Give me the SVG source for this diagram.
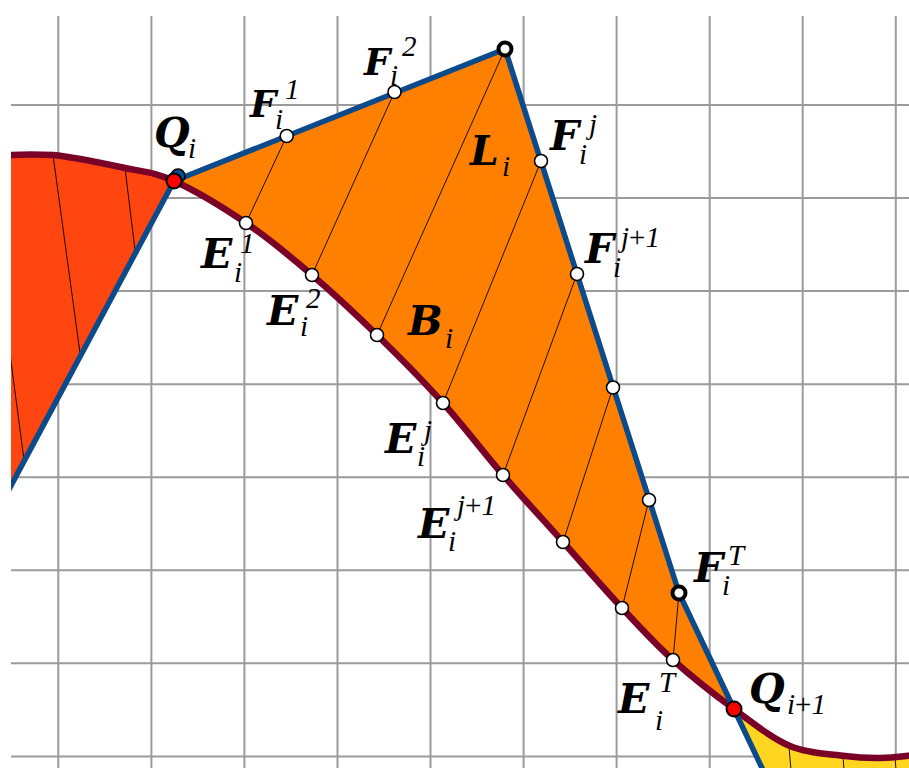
<svg xmlns="http://www.w3.org/2000/svg" width="909" height="768" viewBox="0 0 909 768">
<defs>
<clipPath id="view"><rect x="11" y="16" width="898" height="752"/></clipPath>
<style>
.grid line{stroke:#9b9b9b;stroke-width:2}
.seg{stroke:#000;stroke-width:0.9;fill:none}
.blue{stroke:#0b4a8b;stroke-width:5.5;fill:none;stroke-linejoin:round}
.curve{stroke:#7a0028;stroke-width:6.5;fill:none}
.pt{fill:#fff;stroke:#000;stroke-width:1.6}
.vx{fill:#fff;stroke:#000;stroke-width:4}
.rd{fill:#ff0000;stroke:#000;stroke-width:2}
text{fill:#000}
.m{font-family:"DejaVu Serif","Liberation Serif",serif;font-size:41px;font-weight:bold;font-style:italic}
.ms{font-family:"DejaVu Serif","Liberation Serif",serif;font-size:37px;font-weight:bold;font-style:italic}
.s{font-family:"Liberation Serif","Times New Roman",serif;font-size:29px;font-style:italic}
.p{font-style:normal;font-weight:normal}
</style>
</defs>
<rect width="909" height="768" fill="#fff"/>
<g clip-path="url(#view)">
<g id="grid" class="grid">
<line x1="58.3" y1="16" x2="58.3" y2="768"/>
<line x1="151.4" y1="16" x2="151.4" y2="768"/>
<line x1="244.4" y1="16" x2="244.4" y2="768"/>
<line x1="337.5" y1="16" x2="337.5" y2="768"/>
<line x1="430.5" y1="16" x2="430.5" y2="768"/>
<line x1="523.6" y1="16" x2="523.6" y2="768"/>
<line x1="616.6" y1="16" x2="616.6" y2="768"/>
<line x1="709.7" y1="16" x2="709.7" y2="768"/>
<line x1="802.7" y1="16" x2="802.7" y2="768"/>
<line x1="895.8" y1="16" x2="895.8" y2="768"/>
<line x1="11" y1="105" x2="909" y2="105"/>
<line x1="11" y1="198.1" x2="909" y2="198.1"/>
<line x1="11" y1="291.1" x2="909" y2="291.1"/>
<line x1="11" y1="384.2" x2="909" y2="384.2"/>
<line x1="11" y1="477.2" x2="909" y2="477.2"/>
<line x1="11" y1="570.3" x2="909" y2="570.3"/>
<line x1="11" y1="663.3" x2="909" y2="663.3"/>
<line x1="11" y1="756.4" x2="909" y2="756.4"/>
</g>
<g id="regions">
<path id="region-prev" fill="#ff4510" d="M-20,158 C-5,155.5 25,154 53,155 C73.8,157 104.8,163.7 125,168 C145.2,172.3 153.8,171.8 174,181 L-7.4,520 L-20,520 Z"/>
<path id="region-Bi" fill="#ff8000" d="M174,181 L505,49 L679,593 L734,709 C714.5,694.7 691.7,676.8 673,660 C654.3,643.2 640.3,627.7 622,608 C603.7,588.3 582.8,564.2 563,542 C543.2,519.8 523,498.2 503,475 C483,451.8 464,426.3 443,403 C422,379.7 398.8,356.3 377,335 C355.2,313.7 333.8,293.7 312,275 C290.2,256.3 269,238.7 246,223 C223,207.3 194.2,190.2 174,181 Z"/>
<path id="region-next" fill="#ffd520" d="M734,709 C753.5,723.3 771.5,738.2 790,746 C808.5,753.8 830,754 845,756 C860,758 868.3,758.2 880,758 C891.7,757.8 909.2,755.5 915,755 L915,780 L767.7,780 Z"/>
</g>
<g id="connectors">
<line class="seg" x1="286.7" y1="136" x2="246" y2="223"/>
<line class="seg" x1="394.5" y1="92" x2="312" y2="275"/>
<line class="seg" x1="505" y1="49" x2="377" y2="335"/>
<line class="seg" x1="541" y1="161" x2="443" y2="403"/>
<line class="seg" x1="577" y1="274" x2="503" y2="475"/>
<line class="seg" x1="613" y1="387.5" x2="563" y2="542"/>
<line class="seg" x1="649" y1="500" x2="622" y2="608"/>
<line class="seg" x1="679" y1="593" x2="673" y2="660"/>
<line class="seg" x1="53" y1="155" x2="80" y2="353"/>
<line class="seg" x1="125" y1="168" x2="135" y2="250"/>
<line class="seg" x1="-16" y1="157" x2="24" y2="460"/>
<line class="seg" x1="789" y1="747" x2="791" y2="770"/>
<line class="seg" x1="843" y1="756" x2="844" y2="770"/>
<line class="seg" x1="895" y1="757" x2="896" y2="770"/>
<path id="curve" class="curve" d="M-20,158 C-5,155.5 25,154 53,155 C73.8,157 104.8,163.7 125,168 C145.2,172.3 153.8,171.8 174,181 C194.2,190.2 223,207.3 246,223 C269,238.7 290.2,256.3 312,275 C333.8,293.7 355.2,313.7 377,335 C398.8,356.3 422,379.7 443,403 C464,426.3 483,451.8 503,475 C523,498.2 543.2,519.8 563,542 C582.8,564.2 603.7,588.3 622,608 C640.3,627.7 654.3,643.2 673,660 C691.7,676.8 714.5,694.7 734,709 C753.5,723.3 771.5,738.2 790,746 C808.5,753.8 830,754 845,756 C860,758 868.3,758.2 880,758 C891.7,757.8 909.2,755.5 915,755"/>
<path id="polygon-Li" class="blue" d="M-7.4,520 L174,181 L505,49 L679,593 L734,709 L767.7,780"/>
</g>
</g>
<g id="Qi">
<circle cx="178" cy="176" r="7" fill="#0b4a8b" stroke="#000" stroke-width="1.5"/>
<circle class="rd" cx="174" cy="181" r="7.5"/>
<text class="m" x="154" y="147">Q</text><text class="s" x="188" y="158">i</text>
</g>
<g id="Fi1">
<circle class="pt" cx="286.7" cy="136" r="6.5"/>
<text class="ms" x="250" y="117">F</text><text class="s" x="275" y="129">i</text><text class="s" x="285" y="99">1</text>
</g>
<g id="Fi2">
<circle class="pt" cx="394.5" cy="92" r="6.5"/>
<text class="ms" x="364" y="75">F</text><text class="s" x="390" y="85">i</text><text class="s" x="402" y="56">2</text>
</g>
<g id="top">
<circle class="vx" cx="505" cy="49" r="6.5"/>
</g>
<g id="Li">
<text class="m" x="470" y="165">L</text><text class="s" x="502" y="176">i</text>
</g>
<g id="Fij">
<circle class="pt" cx="541" cy="161" r="6.5"/>
<text class="m" x="550" y="150">F</text><text class="s" x="579" y="164">i</text><text class="s" x="589" y="134">j</text>
</g>
<g id="Fij1">
<circle class="pt" cx="577" cy="274" r="6.5"/>
<text class="m" x="585" y="263">F</text><text class="s" x="613" y="277">i</text><text class="s" x="621" y="247">j<tspan class="p">+</tspan>1</text>
</g>
<g id="F5"><circle class="pt" cx="613" cy="387.5" r="6.5"/></g>
<g id="F6"><circle class="pt" cx="649" cy="500" r="6.5"/></g>
<g id="FiT">
<circle class="vx" cx="679" cy="593" r="6.5"/>
<text class="m" x="694" y="582">F</text><text class="s" x="722" y="595">i</text><text class="s" x="728" y="565">T</text>
</g>
<g id="Ei1">
<circle class="pt" cx="246" cy="223" r="6.5"/>
<text class="m" x="201" y="268">E</text><text class="s" x="234" y="282">i</text><text class="s" x="240" y="253">1</text>
</g>
<g id="Ei2">
<circle class="pt" cx="312" cy="275" r="6.5"/>
<text class="m" x="267" y="325">E</text><text class="s" x="300" y="336">i</text><text class="s" x="306" y="308">2</text>
</g>
<g id="E3"><circle class="pt" cx="377" cy="335" r="6.5"/></g>
<g id="Bi">
<text class="m" x="408" y="335">B</text><text class="s" x="445" y="348">i</text>
</g>
<g id="Eij">
<circle class="pt" cx="443" cy="403" r="6.5"/>
<text class="m" x="385" y="453">E</text><text class="s" x="417" y="466">i</text><text class="s" x="424" y="440">j</text>
</g>
<g id="Eij1">
<circle class="pt" cx="503" cy="475" r="6.5"/>
<text class="m" x="418" y="538">E</text><text class="s" x="448" y="551">i</text><text class="s" x="457" y="515">j<tspan class="p">+</tspan>1</text>
</g>
<g id="E6"><circle class="pt" cx="563" cy="542" r="6.5"/></g>
<g id="E7"><circle class="pt" cx="622" cy="608" r="6.5"/></g>
<g id="EiT">
<circle class="pt" cx="673" cy="660" r="6.5"/>
<text class="m" x="618" y="713">E</text><text class="s" x="655" y="730">i</text><text class="s" x="659" y="692">T</text>
</g>
<g id="Qi1">
<circle class="rd" cx="734" cy="709" r="7.5"/>
<text class="m" x="749" y="703">Q</text><text class="s" x="787" y="714">i<tspan class="p">+</tspan>1</text>
</g>
</svg>
